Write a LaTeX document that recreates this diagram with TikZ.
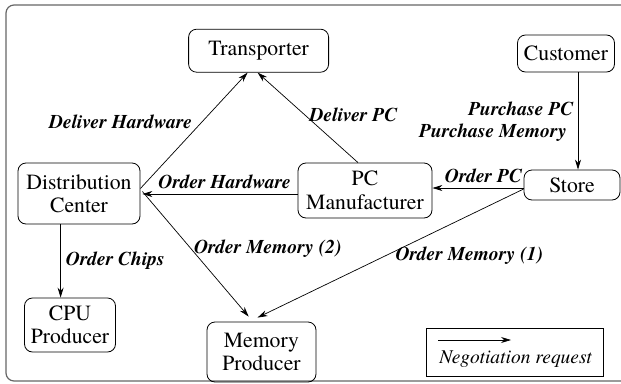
\documentclass[tikz,border=0pt]{standalone}
\usepackage{fontspec}
\IfFontExistsTF{TeX Gyre Termes}{\setmainfont{TeX Gyre Termes}}{\setmainfont{Liberation Serif}}
\usetikzlibrary{arrows.meta,calc}
\begin{document}
\begin{tikzpicture}[x=1pt,y=-1pt,
  box/.style={draw, rounded corners=8pt, line width=0.8pt, align=center,
    font=\fontsize{21.7}{23.5}\selectfont, inner sep=0pt},
  lbl/.style={font=\fontsize{19.5}{21}\selectfont\bfseries\itshape, inner sep=0pt},
  arr/.style={-{Stealth[length=10pt,width=6pt]}, line width=0.7pt}]
\useasboundingbox (0,0) rectangle (621,383);
\draw[rounded corners=8pt, line width=1.2pt, black!60] (6,5) rectangle (650,381);
% nodes
\node[box, minimum width=140pt, minimum height=43pt] (tr) at (258.6,50.7) {Transporter};
\node[box, minimum width=97pt, minimum height=37pt] (cu) at (566,53.5) {Customer};
\node[box, minimum width=122pt, minimum height=61pt] (dc) at (79,193.5) {Distribution\\Center};
\node[box, minimum width=134pt, minimum height=55pt] (pc) at (365,190.5) {PC\\Manufacturer};
\node[box, minimum width=96pt, minimum height=30pt] (st) at (572,185) {Store};
\node[box, minimum width=91pt, minimum height=54pt] (cpu) at (70,325) {CPU\\Producer};
\node[box, minimum width=109pt, minimum height=60pt] (mem) at (261.5,352) {Memory\\Producer};
% connectors
\draw[arr] ([yshift=5pt]dc.east) -- ([xshift=-11pt]tr.south);
\draw[arr] ([xshift=-7pt]pc.north) -- ([xshift=-1pt]tr.south);
\coordinate (cuA) at ([xshift=12pt]cu.south);
\draw[arr] (cuA) -- (cuA |- st.north);
\coordinate (stA) at ([yshift=-3pt]st.west);
\draw[arr] (stA) -- (stA -| pc.east);
\coordinate (pcA) at ([yshift=-3.5pt]pc.west);
\draw[arr] (pcA) -- ([xshift=2pt]pcA -| dc.east);
\draw[arr] ([xshift=2pt,yshift=2pt]dc.east) -- ([xshift=-12.8pt,yshift=5pt]mem.north);
\draw[arr] ([yshift=-4pt]st.west) -- ([xshift=-4pt,yshift=4pt]mem.north);
\coordinate (dcA) at ([xshift=-18.4pt]dc.south);
\draw[arr] (dcA) -- (dcA |- cpu.north);
% labels
\node[lbl] (l1) at (120.5,122) {Deliver Hardware};
\node[lbl] (l2) at (353.5,115) {Deliver PC};
\node[lbl] (l3) at (520.8,108.5) {Purchase PC};
\node[lbl] (l4) at (493,133) {Purchase Memory};
\node[lbl] (l5) at (483.5,176) {Order PC};
\node[lbl] (l6) at (224.6,181.7) {Order Hardware};
\node[lbl] (l7) at (267.8,249) {Order Memory (2)};
\node[lbl] (l8) at (469.3,255.7) {Order Memory (1)};
\node[lbl] (l9) at (115.4,261) {Order Chips};
% legend
\node[draw, line width=0.8pt, minimum width=176.5pt, minimum height=48pt, inner sep=0pt] (leg) at (514.75,352) {};
\coordinate (legA) at (438,340);
\coordinate (legB) at (511,340);
\draw[arr] (legA) -- (legB);
\node[font=\fontsize{19.5}{21}\selectfont\itshape, inner sep=0pt] (legT) at (515.6,359) {Negotiation request};
\end{tikzpicture}
\end{document}
